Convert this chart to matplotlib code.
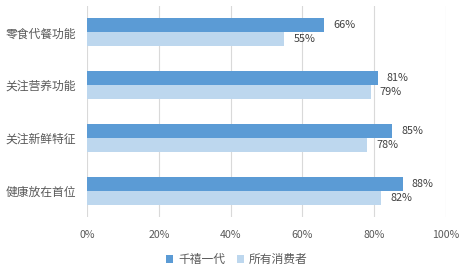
import matplotlib.pyplot as plt
import numpy as np

plt.rcParams['font.family'] = ['Noto Sans CJK SC', 'DejaVu Sans']

categories = ['零食代餐功能', '关注营养功能', '关注新鲜特征', '健康放在首位']
millennials = [66, 81, 85, 88]
all_consumers = [55, 79, 78, 82]
series_names = ['千禧一代', '所有消费者']
xticks = [0, 20, 40, 60, 80, 100]

dark = '#5B9BD5'
light = '#BDD7EE'
text_gray = '#595959'

fig = plt.figure(figsize=(4.69, 2.72), dpi=100)
ax = fig.add_axes([0.1855, 0.202, 0.7655, 0.776])

y = np.arange(len(categories))
h = 0.264
b1 = ax.barh(y - h / 2, millennials, height=h, color=dark, label=series_names[0], zorder=3)
b2 = ax.barh(y + h / 2, all_consumers, height=h, color=light, label=series_names[1], zorder=3)

for bars, vals in ((b1, millennials), (b2, all_consumers)):
    for bar, v in zip(bars, vals):
        ax.text(v + 2.5, bar.get_y() + bar.get_height() / 2, f'{v}%',
                va='center', ha='left', fontsize=7.8, color='#404040')

ax.set_xlim(0, 100)
ax.set_ylim(len(categories) - 0.5, -0.5)
ax.set_yticks(y)
ax.set_yticklabels(categories, fontsize=8.5, color=text_gray)
ax.set_xticks(xticks)
ax.set_xticklabels([f'{t}%' for t in xticks], fontsize=7.6, color=text_gray)
ax.tick_params(axis='both', length=0)
ax.tick_params(axis='x', pad=9)
ax.tick_params(axis='y', pad=8)
ax.grid(axis='x', color='#D9D9D9', linewidth=0.8, zorder=0)
for s in ax.spines.values():
    s.set_visible(False)

leg = fig.legend(handles=[b1, b2], labels=series_names, loc='center',
                 bbox_to_anchor=(0.505, 0.045), ncol=2, frameon=False,
                 fontsize=8.5, handlelength=0.6, handleheight=0.6,
                 handletextpad=0.4, columnspacing=1.0)
for t in leg.get_texts():
    t.set_color(text_gray)

fig.savefig('out.png', dpi=100)
